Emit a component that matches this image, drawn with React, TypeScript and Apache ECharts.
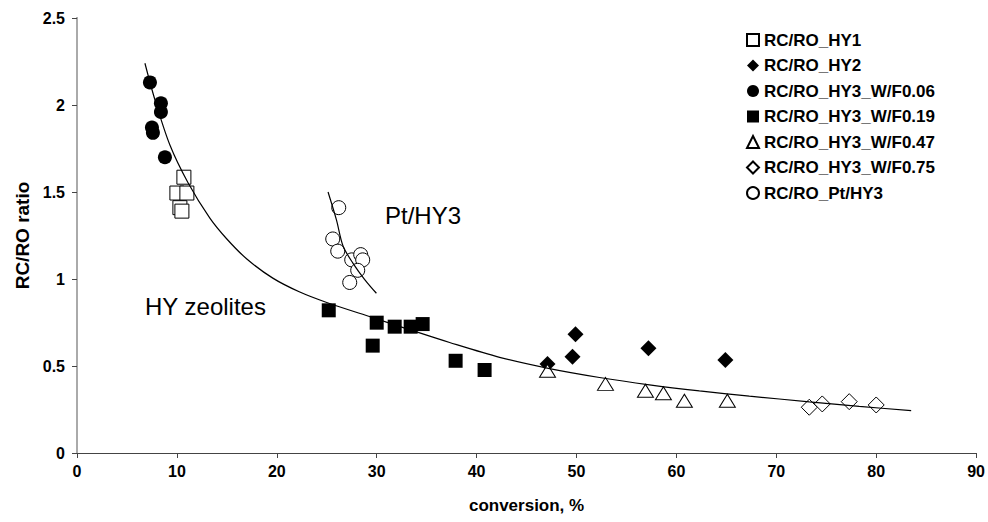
import React, { useEffect, useRef } from "react";
import * as echarts from "echarts";

// ---- Data ----
const hy1X = [10.7, 10.0, 11.0, 10.3, 10.5];
const hy1Y = [1.585, 1.494, 1.494, 1.41, 1.39];

const hy2X = [49.9, 49.6, 47.1, 57.2, 64.9];
const hy2Y = [0.682, 0.553, 0.511, 0.602, 0.534];

const wf006X = [7.3, 8.4, 8.4, 7.5, 7.6, 8.8];
const wf006Y = [2.13, 2.01, 1.96, 1.87, 1.84, 1.70];

const wf019X = [25.2, 30.0, 29.6, 31.8, 33.4, 34.6, 37.9, 40.8];
const wf019Y = [0.82, 0.749, 0.617, 0.726, 0.726, 0.741, 0.53, 0.477];

const wf047X = [47.1, 52.9, 56.9, 58.7, 60.8, 65.1];
const wf047Y = [0.473, 0.397, 0.358, 0.343, 0.30, 0.30];

const wf075X = [73.3, 74.6, 77.3, 80.0];
const wf075Y = [0.263, 0.282, 0.295, 0.276];

const ptX = [26.2, 25.6, 26.1, 27.5, 28.4, 28.6, 28.1, 27.3];
const ptY = [1.41, 1.23, 1.16, 1.11, 1.14, 1.11, 1.05, 0.98];

// trend line (HY zeolites)
const hyFitX = [6.8, 7.8, 9.3, 11.1, 13.3, 15.0, 17.0, 19.6, 22.3, 25.0, 29.5, 33.5, 37.3, 42.3, 47.3, 52.3, 57.3, 62.3, 67.3, 73.3, 78.3, 83.5];
const hyFitY = [2.24, 2.03, 1.77, 1.555, 1.35, 1.23, 1.115, 1.005, 0.925, 0.865, 0.78, 0.705, 0.635, 0.55, 0.485, 0.434, 0.392, 0.357, 0.327, 0.294, 0.268, 0.243];

// trend line (Pt/HY3)
const ptFitX = [25.13, 25.97, 26.63, 27.63, 28.8, 29.97];
const ptFitY = [1.50, 1.34, 1.19, 1.09, 0.997, 0.918];

const seriesNames = [
  "RC/RO_HY1",
  "RC/RO_HY2",
  "RC/RO_HY3_W/F0.06",
  "RC/RO_HY3_W/F0.19",
  "RC/RO_HY3_W/F0.47",
  "RC/RO_HY3_W/F0.75",
  "RC/RO_Pt/HY3",
];

const zip = (xs: number[], ys: number[]) => xs.map((x, i) => [x, ys[i]]);

const FONT = "'Liberation Sans', Arial, sans-serif";

export default function App() {
  const ref = useRef<HTMLDivElement>(null);

  useEffect(() => {
    if (!ref.current) return;
    const chart = echarts.init(ref.current, undefined, { renderer: "svg" });

    const open = { color: "#ffffff", borderColor: "#000000", borderWidth: 1, opacity: 1 };
    const filled = { color: "#000000", borderColor: "#000000", borderWidth: 0, opacity: 1 };

    const scatter = (name: string, data: number[][], symbol: string, size: any, style: any) => ({
      name,
      type: "scatter",
      data,
      symbol,
      symbolSize: size,
      itemStyle: style,
      emphasis: { disabled: true },
      z: 2,
    });

    chart.setOption({
      animation: false,
      backgroundColor: "#ffffff",
      textStyle: { fontFamily: FONT },
      grid: { left: 77, right: 11, top: 18, bottom: 69, containLabel: false },
      legend: {
        data: seriesNames,
        orient: "vertical",
        left: 741,
        top: 26.5,
        itemWidth: 12,
        itemHeight: 12,
        itemGap: 8.5,
        textStyle: { fontFamily: FONT, fontSize: 17, fontWeight: "bold", color: "#000", lineHeight: 17 },
      },
      xAxis: [
        {
          type: "value",
          min: 0,
          max: 90,
          interval: 10,
          position: "bottom",
          name: "conversion, %",
          nameLocation: "middle",
          nameGap: 44,
          nameTextStyle: { fontFamily: FONT, fontSize: 17, fontWeight: "bold", color: "#000" },
          axisLine: { show: true, lineStyle: { color: "#444", width: 1 } },
          axisTick: { show: true, length: 5, lineStyle: { color: "#444" } },
          axisLabel: { margin: 10, fontFamily: FONT, fontSize: 16, fontWeight: "bold", color: "#000" },
          splitLine: { show: false },
        },
        {
          type: "value",
          min: 0,
          max: 90,
          position: "top",
          axisLine: { show: true, lineStyle: { color: "#444", width: 1 } },
          axisTick: { show: false },
          axisLabel: { show: false },
          splitLine: { show: false },
        },
      ],
      yAxis: [
        {
          type: "value",
          min: 0,
          max: 2.5,
          interval: 0.5,
          position: "left",
          name: "RC/RO ratio",
          nameLocation: "middle",
          nameGap: 44,
          nameRotate: 90,
          nameTextStyle: { fontFamily: FONT, fontSize: 19, fontWeight: "bold", color: "#000" },
          axisLine: { show: true, lineStyle: { color: "#aaaaaa", width: 2 } },
          axisTick: { show: true, length: 5, lineStyle: { color: "#444" } },
          axisLabel: { margin: 12, fontFamily: FONT, fontSize: 16, fontWeight: "bold", color: "#000" },
          splitLine: { show: false },
        },
        {
          type: "value",
          min: 0,
          max: 2.5,
          position: "right",
          axisLine: { show: true, lineStyle: { color: "#aaaaaa", width: 2 } },
          axisTick: { show: false },
          axisLabel: { show: false },
          splitLine: { show: false },
        },
      ],
      series: [
        scatter(seriesNames[0], zip(hy1X, hy1Y), "rect", 14, open),
        scatter(seriesNames[1], zip(hy2X, hy2Y), "diamond", 16, filled),
        scatter(seriesNames[2], zip(wf006X, wf006Y), "circle", 14, filled),
        scatter(seriesNames[3], zip(wf019X, wf019Y), "rect", 14, filled),
        scatter(seriesNames[4], zip(wf047X, wf047Y), "triangle", [16, 13], open),
        scatter(seriesNames[5], zip(wf075X, wf075Y), "diamond", 16, open),
        scatter(seriesNames[6], zip(ptX, ptY), "circle", 14, open),
        {
          name: "fitHY",
          type: "line",
          data: zip(hyFitX, hyFitY),
          smooth: 0.3,
          showSymbol: false,
          symbol: "none",
          lineStyle: { color: "#000", width: 1.2 },
          emphasis: { disabled: true },
          z: 5,
        },
        {
          name: "fitPt",
          type: "line",
          data: zip(ptFitX, ptFitY),
          smooth: 0.3,
          showSymbol: false,
          symbol: "none",
          lineStyle: { color: "#000", width: 1.2 },
          emphasis: { disabled: true },
          z: 5,
        },
      ],
      graphic: [
        {
          type: "text",
          x: 145,
          y: 306,
          style: { text: "HY zeolites", font: `24px ${FONT}`, fill: "#000", verticalAlign: "middle", align: "left" },
        },
        {
          type: "text",
          x: 385,
          y: 215,
          style: { text: "Pt/HY3", font: `24px ${FONT}`, fill: "#000", verticalAlign: "middle", align: "left" },
        },
      ],
    });

    return () => chart.dispose();
  }, []);

  return <div ref={ref} style={{ width: 988, height: 522, position: "absolute", left: 0, top: 0 }} />;
}
